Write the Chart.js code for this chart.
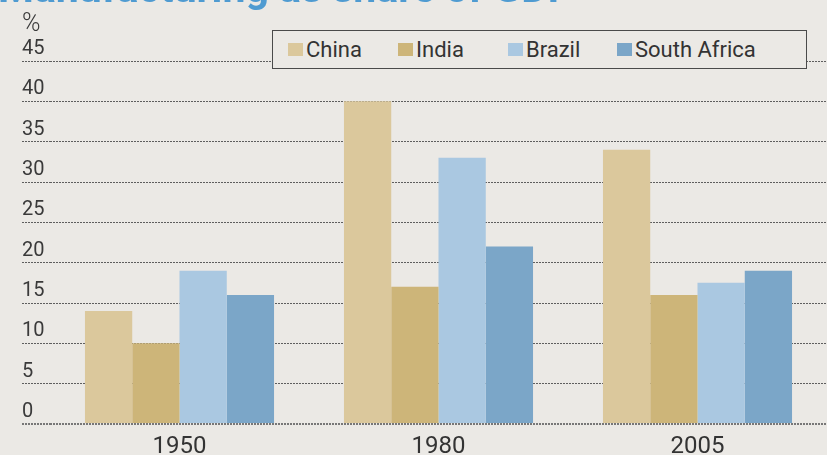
<!DOCTYPE html>
<html lang="en">
<head>
  <meta charset="UTF-8" />
  <title>Manufacturing as share of GDP</title>
  <script src="https://cdn.jsdelivr.net/npm/chart.js"></script>
  <style>
    html, body {
      margin: 0;
      padding: 0;
      background: #ebe9e5;
      overflow: hidden;
    }

    .wrap {
      position: relative;
      width: 827px;
      height: 455px;
      font-family: Roboto, sans-serif;
    }

    .title {
      position: absolute;
      left: -2px;
      top: -32px;
      font-size: 41px;
      line-height: 41px;
      font-weight: 700;
      color: #4f9bd1;
      white-space: nowrap;
    }

    .unit {
      position: absolute;
      left: 22px;
      top: 8px;
      font-size: 25px;
      font-weight: 300;
      color: #3a3a3a;
    }

    #legend {
      position: absolute;
      left: 272px;
      top: 30px;
      width: 535px;
      height: 39px;
      border: 1.5px solid #4a4a4a;
      background: #ebe9e5;
      box-sizing: border-box;
    }

    #legend .item {
      position: absolute;
      top: 0;
      height: 36px;
      display: flex;
      align-items: center;
      font-size: 22px;
      color: #333;
      white-space: nowrap;
    }

    #legend .sw {
      width: 15px;
      height: 13px;
      margin-right: 3px;
    }

    canvas {
      position: absolute;
      left: 0;
      top: 0;
    }
  </style>
</head>
<body>
  <div class="wrap">
    <canvas id="chart" width="827" height="455"></canvas>
    <div class="title">Manufacturing as share of GDP</div>
    <div class="unit">%</div>
    <div id="legend"></div>
  </div>

  <script>
    // data
    const years = ['1950', '1980', '2005'];
    const seriesNames = ['China', 'India', 'Brazil', 'South Africa'];
    const china = [14, 40, 34];
    const india = [10, 17, 16];
    const brazil = [19, 33, 17.5];
    const southAfrica = [16, 22, 19];
    const yTicks = [0, 5, 10, 15, 20, 25, 30, 35, 40, 45];

    const colors = ['#dbc89c', '#cdb579', '#aac8e1', '#7ba6c8'];
    const values = [china, india, brazil, southAfrica];
    const legendLeft = [15, 125, 235, 344]; // px inside the legend box

    // legend box (html, sits over the top gridline like in the print)
    const legendEl = document.getElementById('legend');
    seriesNames.forEach((name, i) => {
      const item = document.createElement('div');
      item.className = 'item';
      item.style.left = legendLeft[i] + 'px';
      item.innerHTML = `<span class="sw" style="background:${colors[i]}"></span>${name}`;
      legendEl.appendChild(item);
    });

    const ctx = document.getElementById('chart').getContext('2d');
    new Chart(ctx, {
      type: 'bar',
      data: {
        labels: years,
        datasets: seriesNames.map((name, i) => ({
          label: name,
          data: values[i],
          backgroundColor: colors[i],
          borderWidth: 0,
          categoryPercentage: 0.73,
          barPercentage: 1.0
        }))
      },
      options: {
        responsive: false,
        animation: false,
        layout: {
          padding: { left: 22, right: 0, top: 61, bottom: 0 }
        },
        plugins: {
          legend: { display: false },
          tooltip: { enabled: false }
        },
        scales: {
          x: {
            grid: { display: false },
            border: { display: false },
            ticks: {
              color: '#333',
              font: { family: 'Roboto', size: 24 },
              padding: 1
            },
            afterFit: s => { s.height = 31; }
          },
          y: {
            min: 0,
            max: 45,
            afterBuildTicks: s => { s.ticks = yTicks.map(v => ({ value: v })); },
            afterFit: s => { s.width = 28; },
            border: { display: false, dash: [2, 1] },
            grid: {
              color: c => c.tick && c.tick.value === 0 ? '#777' : '#5e5e5e',
              lineWidth: c => c.tick && c.tick.value === 0 ? 2 : 1,
              tickLength: 28,
              tickBorderDash: [2, 1]
            },
            ticks: {
              crossAlign: 'far',
              labelOffset: -12,
              padding: 0,
              color: '#3a3a3a',
              font: { family: 'Roboto', size: 20 }
            }
          }
        }
      }
    });
  </script>
</body>
</html>
